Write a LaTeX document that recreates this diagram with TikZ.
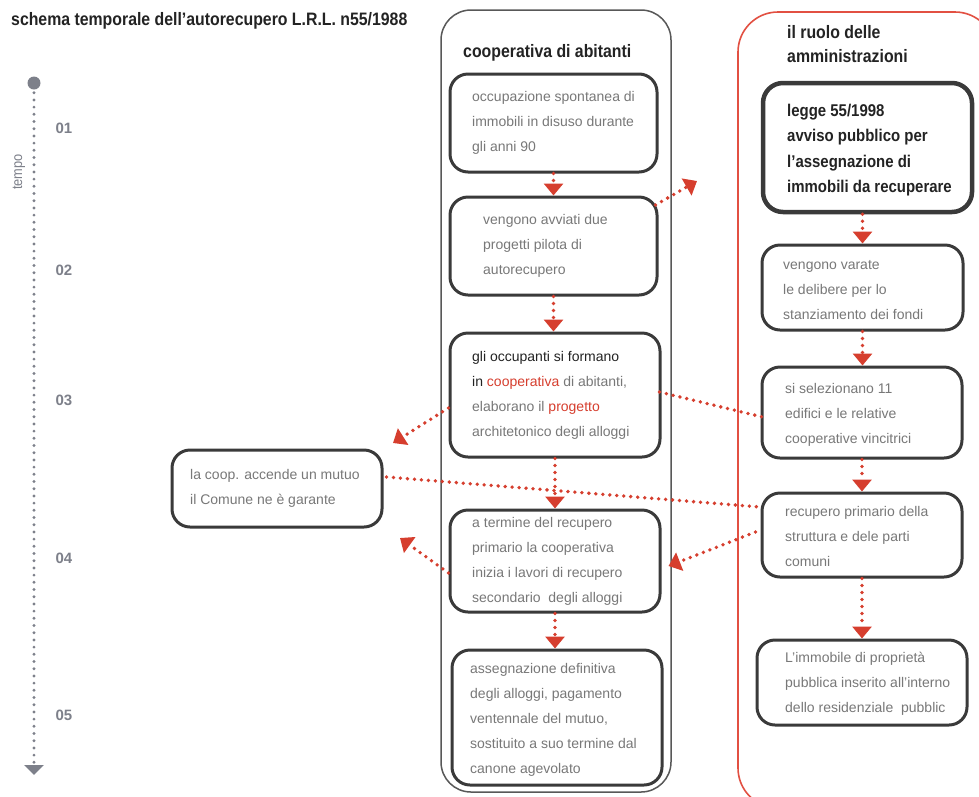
\documentclass[tikz,border=0pt]{standalone}
\usepackage{fontspec}
\setmainfont{Liberation Sans}
\newfontfamily\condbold[FakeStretch=0.88]{Liberation Sans}
\usetikzlibrary{arrows.meta}
\definecolor{arrowred}{RGB}{214,62,46}
\definecolor{framered}{RGB}{226,80,66}
\definecolor{boxline}{RGB}{58,58,58}
\definecolor{bodygrey}{RGB}{120,120,120}
\definecolor{darktxt}{RGB}{35,35,35}
\definecolor{tgrey}{RGB}{125,128,138}
\tikzset{
  box/.style={draw=boxline, line width=3pt, rounded corners=18pt, inner sep=0pt},
  bigbox/.style={draw=boxline, line width=4.5pt, rounded corners=20pt, inner sep=0pt},
  txt/.style={anchor=west, align=left, inner sep=0pt, text=bodygrey, font=\fontsize{14}{25}\selectfont},
  head/.style={anchor=base west, inner sep=0pt, text=darktxt, font=\condbold\bfseries\fontsize{18}{24}\selectfont, align=left},
  conn/.style={draw=arrowred, line width=3.8pt, line cap=round, dash pattern=on 0pt off 7pt},
  tip/.style={-{Triangle[width=19pt,length=12pt]}},
  tdots/.style={draw=tgrey, line width=3.2pt, line cap=round, dash pattern=on 0pt off 7.2pt},
  num/.style={inner sep=0pt, text=tgrey, font=\bfseries\fontsize{15}{18}\selectfont}
}
\begin{document}
\begin{tikzpicture}[x=1pt,y=-1pt]
\useasboundingbox (0,0) rectangle (979,796);
\clip (0,0) rectangle (979,796);
\fill[white] (0,0) rectangle (979,796);

% title
\node[head, font=\condbold\bfseries\fontsize{18}{22}\selectfont] (title) at (11,25) {schema temporale dell’autorecupero L.R.L. n55/1988};

% timeline
\node[circle, fill=tgrey, minimum size=13pt, inner sep=0pt] (tl0) at (34,83) {};
\coordinate (tl1) at (34,775);
\draw[tdots, {-Triangle[width=19pt,length=10pt]}, shorten <=3pt] (tl0) -- (tl1);
\node[rotate=90, inner sep=0pt, text=tgrey, font=\condbold\fontsize{14.5}{16}\selectfont] (tempo) at (19,172) {tempo};
\node[num] (n1) at (64,128) {01};
\node[num] (n2) at (64,270) {02};
\node[num] (n3) at (64,400) {03};
\node[num] (n4) at (64,558) {04};
\node[num] (n5) at (64,715) {05};

% outer frames
\draw[draw=boxline!85, line width=1.5pt, rounded corners=30pt] (441,10) rectangle (671,792);
\draw[draw=framered, line width=1.6pt, rounded corners=40pt] (738,12) rectangle (995,808);

\node[head] (hcoop) at (463,57) {cooperativa di abitanti};
\node[head] (hamm) at (787,62) {il ruolo delle\\[0pt]amministrazioni};

% cooperative boxes
\node[box, minimum width=207pt, minimum height=98pt] (b1) at (553.5,123) {};
\node[txt] (b1t) at (472,123) {occupazione spontanea di\\immobili in disuso durante\\gli anni 90};
\node[box, minimum width=207pt, minimum height=98pt] (b2) at (553.5,246) {};
\node[txt] (b2t) at (483,246) {vengono avviati due\\progetti pilota di\\autorecupero};
\node[box, minimum width=210pt, minimum height=124pt] (b3) at (555,395) {};
\node[txt] (b3t) at (472,395) {\textcolor{darktxt}{gli occupanti si formano}\\\textcolor{darktxt}{in} \textcolor{arrowred}{cooperativa} di abitanti,\\elaborano il \textcolor{arrowred}{progetto}\\architetonico degli alloggi};
\node[box, minimum width=210pt, minimum height=102pt] (b4) at (555,561) {};
\node[txt] (b4t) at (472,561) {a termine del recupero\\primario la cooperativa\\inizia i lavori di recupero\\secondario\ \ degli alloggi};
\node[box, minimum width=210pt, minimum height=135pt] (b5) at (557,717.5) {};
\node[txt] (b5t) at (470,720) {assegnazione definitiva\\degli alloggi, pagamento\\ventennale del mutuo,\\sostituito a suo termine dal\\canone agevolato};

% administration boxes
\node[bigbox, minimum width=209pt, minimum height=129pt] (r1) at (867.5,147.5) {};
\node[txt, text=darktxt, font=\condbold\bfseries\fontsize{17}{25.5}\selectfont] (r1t) at (787,150) {legge 55/1998\\avviso pubblico per\\l’assegnazione di\\immobili da recuperare};
\node[box, minimum width=201pt, minimum height=85pt] (r2) at (862.5,287.5) {};
\node[txt] (r2t) at (783,290) {vengono varate\\le delibere per lo\\stanziamento dei fondi};
\node[box, minimum width=200pt, minimum height=91pt] (r3) at (862,412.5) {};
\node[txt] (r3t) at (785,415) {si selezionano 11\\edifici e le relative\\cooperative vincitrici};
\node[box, minimum width=200pt, minimum height=84pt] (r4) at (862,535) {};
\node[txt] (r4t) at (785,536) {recupero primario della\\struttura e dele parti\\comuni};
\node[box, minimum width=210pt, minimum height=85pt] (r5) at (862,682.5) {};
\node[txt] (r5t) at (785,684) {L’immobile di proprietà\\pubblica inserito all’interno\\dello residenziale\ \ pubblic};

% left box
\node[box, minimum width=210pt, minimum height=77pt] (lb) at (277,488.5) {};
\node[txt] (lbt) at (190,488) {la coop. accende un mutuo\\il Comune ne è garante};

% vertical arrows
\draw[conn, tip] (b1.south) -- (b1.south |- b2.north);
\draw[conn, tip] (b2.south) -- (b2.south |- b3.north);
\draw[conn, tip] (b3.south) -- (b3.south |- b4.north);
\draw[conn, tip] (b4.south) -- (b4.south |- b5.north);
\draw[conn, tip] (r1.south -| r2.north) -- (r2.north);
\draw[conn, tip] (r2.south) -- (r2.south |- r3.north);
\draw[conn, tip] (r3.south) -- (r3.south |- r4.north);
\draw[conn, tip] (r4.south) -- (r4.south |- r5.north);

% free arrows
\coordinate (a1) at (697,181);
\coordinate (a2) at (393,443);
\coordinate (a3) at (400,538);
\draw[conn, tip] ([xshift=-3pt,yshift=41pt]b2.east) -- (a1);
\draw[conn, tip] ([yshift=-13pt]b3.west) -- (a2);
\draw[conn, tip] ([yshift=-12pt]b4.west) -- (a3);

% cross links
\draw[conn] ([xshift=3pt,yshift=11.5pt]lb.east) -- ([yshift=28pt]r4.west);
\draw[conn] ([xshift=-2pt,yshift=3pt]b3.east) -- ([xshift=2pt,yshift=-4.5pt]r3.west);
\draw[conn, tip] ([xshift=-5pt,yshift=3pt]r4.west) -- ([xshift=7pt,yshift=-5pt]b4.east);
\end{tikzpicture}
\end{document}
